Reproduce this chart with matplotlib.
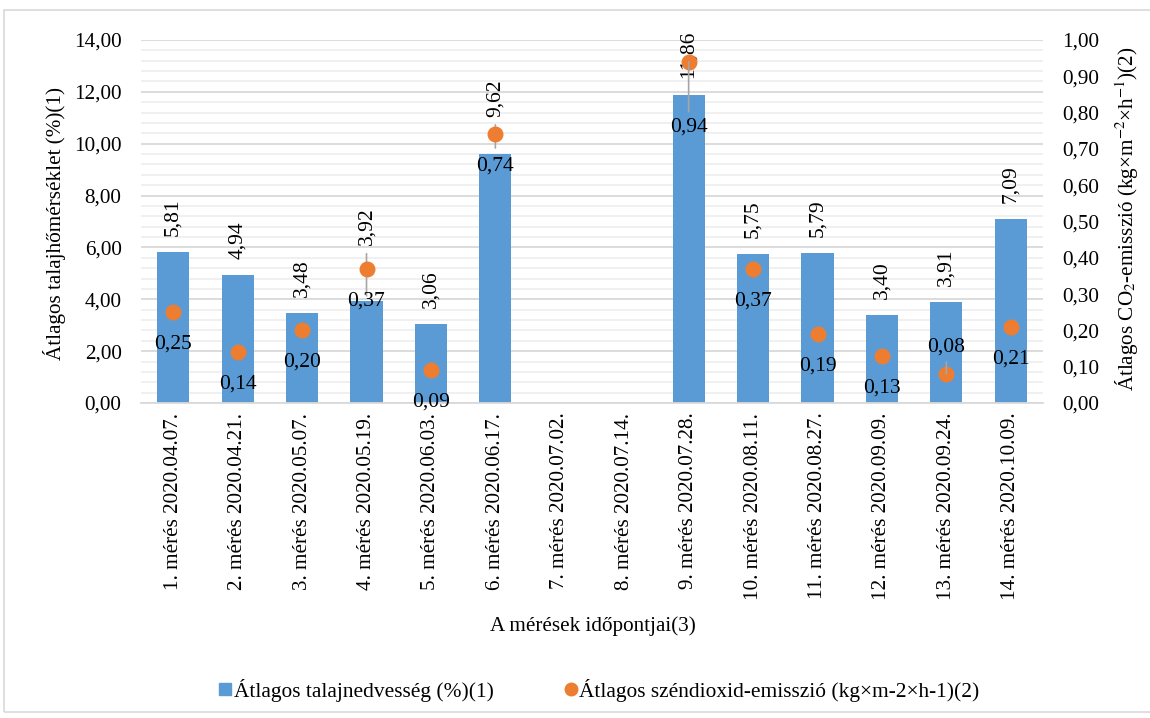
import numpy as np
import matplotlib.pyplot as plt
from matplotlib.ticker import MultipleLocator, FuncFormatter
from matplotlib.lines import Line2D
from matplotlib.patches import Rectangle

plt.rcParams['font.family'] = ['Liberation Serif', 'DejaVu Serif']
plt.rcParams['mathtext.fontset'] = 'stix'

labels = ['1. mérés 2020.04.07.', '2. mérés 2020.04.21.', '3. mérés 2020.05.07.',
          '4. mérés 2020.05.19.', '5. mérés 2020.06.03.', '6. mérés 2020.06.17.',
          '7. mérés 2020.07.02.', '8. mérés 2020.07.14.', '9. mérés 2020.07.28.',
          '10. mérés 2020.08.11.', '11. mérés 2020.08.27.', '12. mérés 2020.09.09.',
          '13. mérés 2020.09.24.', '14. mérés 2020.10.09.']
moisture = [5.81, 4.94, 3.48, 3.92, 3.06, 9.62, np.nan, np.nan,
            11.86, 5.75, 5.79, 3.40, 3.91, 7.09]
co2 = [0.25, 0.14, 0.20, 0.37, 0.09, 0.74, np.nan, np.nan,
       0.94, 0.37, 0.19, 0.13, 0.08, 0.21]

blue = '#5B9BD5'
orange = '#ED7D31'
grid_major = '#d9d9d9'
grid_minor = '#efefef'
leader = '#a6a6a6'
fs_tick = 15.2
fs_data = 15.5


def hu(v):
    return f'{v:.2f}'.replace('.', ',')


W, H = 1150, 718
fig = plt.figure(figsize=(W / 100, H / 100), dpi=100)
fig.patches.append(Rectangle((4 / W, 1 - 712 / H), 1.2, (712 - 10) / H,
                             transform=fig.transFigure, fill=False,
                             edgecolor='#d9d9d9', lw=1.2))

ax = fig.add_axes([141 / W, 1 - 403 / H, (1043 - 141) / W, (403 - 40) / H])
x = np.arange(len(labels))
ax.bar(x, moisture, width=0.5, color=blue, zorder=2)
ax.set_xlim(-0.5, len(labels) - 0.5)
ax.set_ylim(0, 14)
ax.yaxis.set_major_locator(MultipleLocator(2))
ax.yaxis.set_minor_locator(MultipleLocator(0.4))
ax.yaxis.set_major_formatter(FuncFormatter(lambda v, p: hu(v)))
ax.grid(which='major', axis='y', color=grid_major, lw=1.3)
ax.grid(which='minor', axis='y', color=grid_minor, lw=1.3)
ax.set_axisbelow(True)
for s in ['top', 'left', 'right']:
    ax.spines[s].set_visible(False)
ax.spines['bottom'].set_color(grid_major)
ax.spines['bottom'].set_linewidth(1.3)
ax.tick_params(which='both', length=0, labelsize=fs_tick)
ax.tick_params(axis='y', pad=14)
ax.tick_params(axis='x', pad=7)
ax.set_xticks(x, labels, rotation=90)

# bar value labels; 3,92 and 9,62 were pushed up and get a leader line
bar_off = {3: 56, 5: 37, 8: 17}
bar_lead = {3, 5}
for i, v in enumerate(moisture):
    if np.isnan(v):
        continue
    arrow = None
    if i in bar_lead:
        arrow = dict(arrowstyle='-', color=leader, lw=1.2, shrinkA=4, shrinkB=4)
    ax.annotate(hu(v), (x[i], v), xytext=(0, bar_off.get(i, 16)),
                textcoords='offset pixels', rotation=90, ha='center',
                va='bottom', fontsize=fs_data, arrowprops=arrow, zorder=3)

ax2 = ax.twinx()
ax2.set_ylim(0, 1)
ax2.yaxis.set_major_locator(MultipleLocator(0.1))
ax2.yaxis.set_major_formatter(FuncFormatter(lambda v, p: hu(v)))
for s in ax2.spines.values():
    s.set_visible(False)
ax2.tick_params(length=0, labelsize=fs_tick, pad=14)
ax2.scatter(x, co2, s=110, color=orange, zorder=4)

# emission labels sit under the dots, except where they were moved
dot_off = {8: -65, 12: 27}
for i, v in enumerate(co2):
    if np.isnan(v):
        continue
    arrow = None
    if i in dot_off:
        arrow = dict(arrowstyle='-', color=leader, lw=1.2, shrinkA=2, shrinkB=0)
    ax2.annotate(hu(v), (x[i], v), xytext=(0, dot_off.get(i, -32)),
                 textcoords='offset pixels', ha='center', va='center',
                 fontsize=fs_data, arrowprops=arrow, zorder=5)

fig.text(55 / W, 1 - 224 / H, 'Átlagos talajhőmérséklet (%)(1)', rotation=90,
         ha='center', va='center', fontsize=fs_tick)
fig.text(1127 / W, 1 - 219 / H,
         'Átlagos CO$_2$-emisszió (kg×m$^{\\mathrm{-2}}$×h$^{\\mathrm{-1}}$)(2)',
         rotation=90, ha='center', va='center', fontsize=fs_tick)
fig.text(593 / W, 1 - 626 / H, 'A mérések időpontjai(3)',
         ha='center', va='center', fontsize=fs_tick)

handles = [Line2D([], [], ls='none', marker='s', ms=8, color=blue),
           Line2D([], [], ls='none', marker='o', ms=9, color=orange)]
fig.legend(handles, ['Átlagos talajnedvesség (%)(1)',
                     'Átlagos széndioxid-emisszió (kg×m-2×h-1)(2)'],
           loc='center', bbox_to_anchor=(598 / W, 1 - 690 / H), ncol=2,
           frameon=False, fontsize=15.4, handletextpad=0.0, handlelength=0.8,
           columnspacing=3.2)

fig.savefig('out.png', dpi=100)
